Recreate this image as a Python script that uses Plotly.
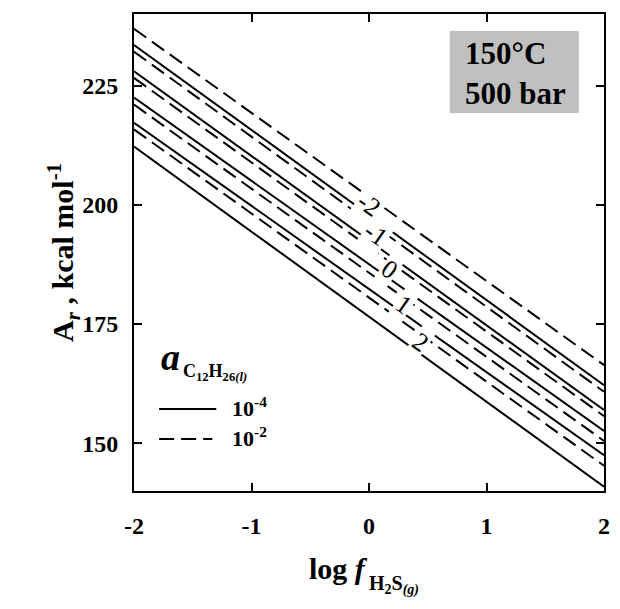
import numpy as np
import plotly.graph_objects as go

# ---- data ----
log_f = [-2.0, 2.0]                       # log f H2S(g), line end points
labels = ["-2", "-1", "0", "1", "2"]      # curve labels
solid_vals = [                            # a C12H26(l) = 1e-4
    [233.5, 162.2],
    [228.0, 157.0],
    [222.5, 152.6],
    [217.2, 147.5],
    [212.2, 140.9],
]
dashed_vals = [                           # a C12H26(l) = 1e-2
    [236.9, 166.4],
    [232.1, 160.8],
    [226.6, 155.7],
    [221.0, 150.5],
    [215.8, 145.3],
]
label_x = [0.0, 0.06, 0.175, 0.29, 0.44]
x_ticks = [-2, -1, 0, 1, 2]
x_ticktext = ["-2", "-1", "0", "1", "2"]
y_ticks = [150, 175, 200, 225]
y_ticktext = ["150", "175", "200", "225"]

FONT = "Liberation Serif, Times New Roman, serif"

fig = go.Figure()
for vals in solid_vals:
    fig.add_trace(go.Scatter(x=log_f, y=vals, mode="lines",
                             line=dict(color="black", width=2),
                             showlegend=False, hoverinfo="skip"))
for vals in dashed_vals:
    fig.add_trace(go.Scatter(x=log_f, y=vals, mode="lines",
                             line=dict(color="black", width=2, dash="15px,7px"),
                             showlegend=False, hoverinfo="skip"))

annotations = []
for lab, lx, vals in zip(labels, label_x, dashed_vals):
    ly = float(np.interp(lx, log_f, vals)) - 1.6
    annotations.append(dict(x=lx, y=ly, xref="x", yref="y", text=lab,
                            showarrow=False, textangle=35,
                            font=dict(family=FONT, size=26, color="black"),
                            bgcolor="white", borderpad=1))

def px2x(px):
    return (px - 133.5) / 477.0

def px2y(py):
    return (491.0 - py) / 477.0

# axis titles
annotations.append(dict(x=px2x(38), y=0.5, xref="paper", yref="paper",
                        text="<b>A<sub><i>r</i></sub> , kcal mol<sup>-1</sup></b>",
                        textangle=-90, showarrow=False,
                        font=dict(family=FONT, size=30, color="black")))
annotations.append(dict(x=px2x(373), y=px2y(568), xref="paper", yref="paper",
                        xanchor="right", yanchor="middle",
                        text="<b>log <i>f</i></b>", showarrow=False,
                        font=dict(family=FONT, size=30, color="black")))
annotations.append(dict(x=px2x(370), y=px2y(585), xref="paper", yref="paper",
                        xanchor="left", yanchor="middle",
                        text="<b>H<sub>2</sub>S<sub><i>(g)</i></sub></b>", showarrow=False,
                        font=dict(family=FONT, size=20, color="black")))

# info box
annotations.append(dict(x=px2x(467), y=px2y(73), xref="paper", yref="paper",
                        xanchor="left", yanchor="middle", align="left",
                        text="<b>150°C<br>500 bar</b>", showarrow=False,
                        font=dict(family=FONT, size=31, color="black")))

# legend
annotations.append(dict(x=px2x(171), y=px2y(357), xref="paper", yref="paper",
                        xanchor="center", yanchor="middle",
                        text="<b><i>a</i></b>", showarrow=False,
                        font=dict(family=FONT, size=38, color="black")))
annotations.append(dict(x=px2x(181), y=px2y(372), xref="paper", yref="paper",
                        xanchor="left", yanchor="middle",
                        text="<b>C<sub>12</sub>H<sub>26<i>(l)</i></sub></b>", showarrow=False,
                        font=dict(family=FONT, size=18, color="black")))
annotations.append(dict(x=px2x(231), y=px2y(407), xref="paper", yref="paper",
                        xanchor="left", yanchor="middle",
                        text="<b>10<sup>-4</sup></b>", showarrow=False,
                        font=dict(family=FONT, size=22, color="black")))
annotations.append(dict(x=px2x(231), y=px2y(437), xref="paper", yref="paper",
                        xanchor="left", yanchor="middle",
                        text="<b>10<sup>-2</sup></b>", showarrow=False,
                        font=dict(family=FONT, size=22, color="black")))

shapes = [
    dict(type="rect", xref="paper", yref="paper",
         x0=px2x(454), x1=px2x(585), y0=px2y(113), y1=px2y(31),
         fillcolor="#c0c0c0", line=dict(width=0), layer="below"),
    dict(type="line", xref="paper", yref="paper",
         x0=px2x(159), x1=px2x(217), y0=px2y(409), y1=px2y(409),
         line=dict(color="black", width=2)),
    dict(type="line", xref="paper", yref="paper",
         x0=px2x(159), x1=px2x(213), y0=px2y(439), y1=px2y(439),
         line=dict(color="black", width=2, dash="15px,7px")),
]

axis_common = dict(showline=True, linecolor="black", linewidth=2, mirror="allticks",
                   ticks="inside", ticklen=8, tickwidth=2, tickcolor="black",
                   showgrid=False, zeroline=False,
                   tickfont=dict(family=FONT, size=24, color="black", weight="bold"))

fig.update_layout(
    width=620, height=609,
    margin=dict(l=133.5, r=9.5, t=14, b=118),
    paper_bgcolor="white", plot_bgcolor="white",
    xaxis=dict(range=[-2, 2], tickvals=x_ticks, ticktext=x_ticktext,
               ticklabelstandoff=12, **axis_common),
    yaxis=dict(range=[140, 240], tickvals=y_ticks, ticktext=y_ticktext,
               ticklabelstandoff=9, **axis_common),
    annotations=annotations, shapes=shapes, showlegend=False,
)

fig.write_html("out.html", config={"displayModeBar": False},
               post_script="document.body.style.margin='0';document.body.style.overflow='hidden';")
